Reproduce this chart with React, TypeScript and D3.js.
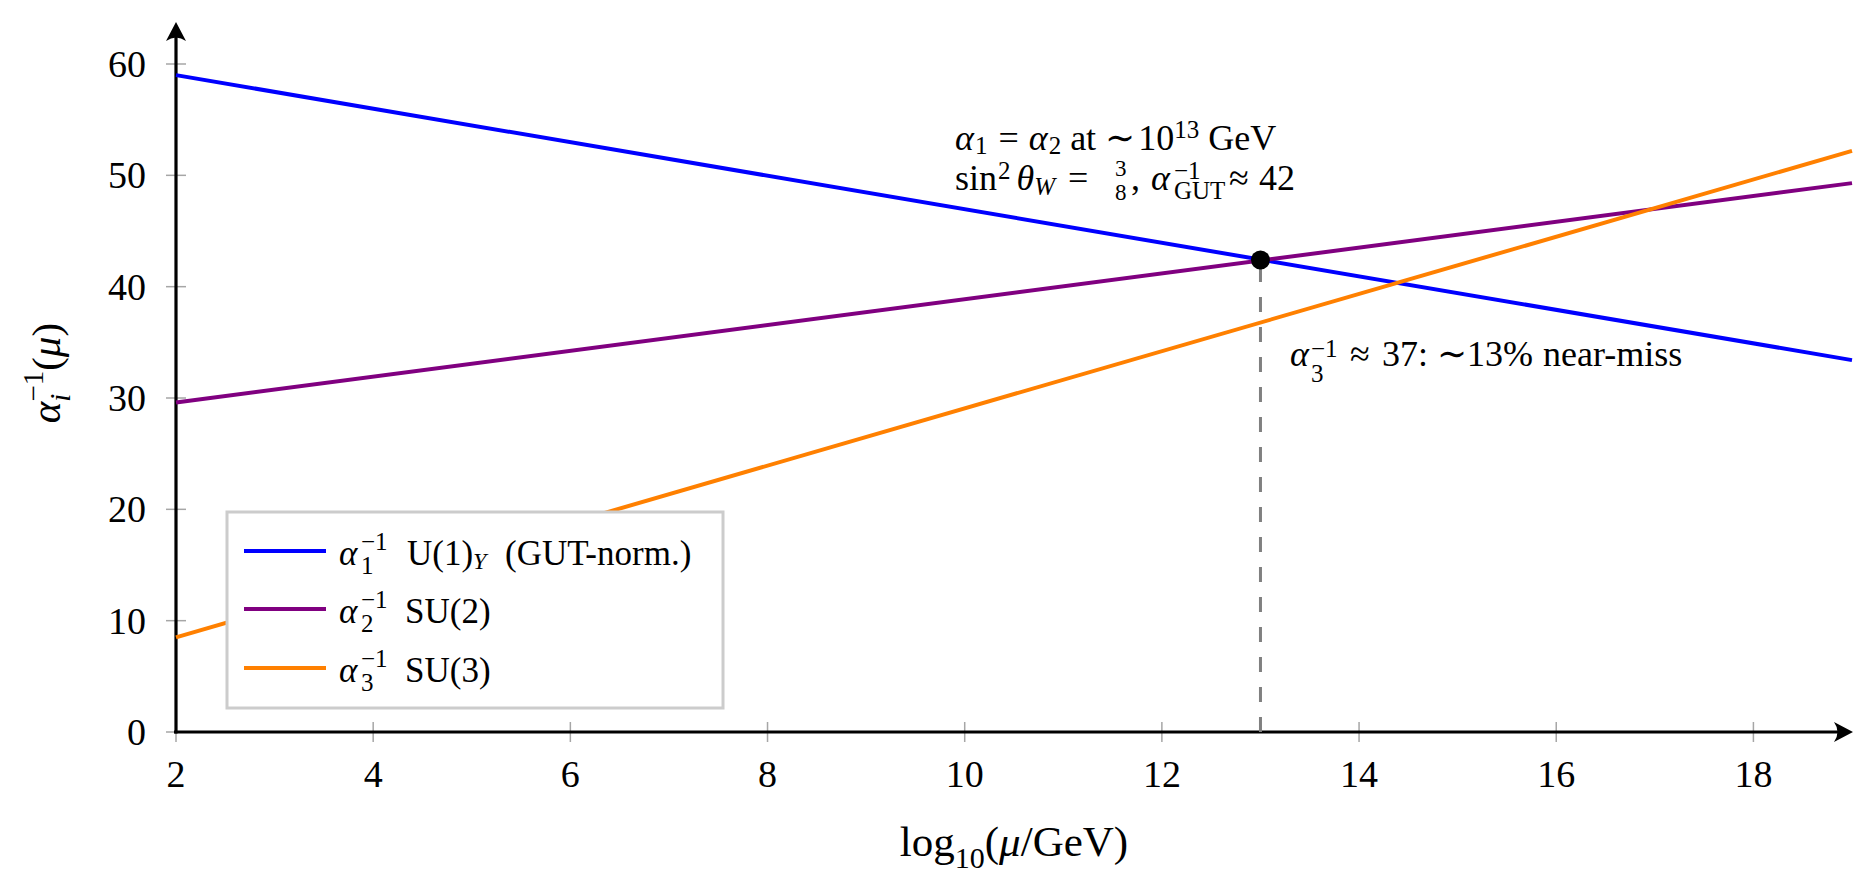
import React from 'react'
import * as d3 from 'd3'

const W = 1873
const H = 887

// inverse couplings at the ends of the plotted range, x = log10(mu / GeV)
const logMu = [2, 19]
const alpha1Inv = [59.0, 33.4]
const alpha2Inv = [29.6, 49.3]
const alpha3Inv = [8.5, 52.2]

const seriesValues = [alpha1Inv, alpha2Inv, alpha3Inv]
const seriesColors = ['#0000ff', '#800080', '#ff8000']
const seriesIndex = ['1', '2', '3']

const xTicks = [2, 4, 6, 8, 10, 12, 14, 16, 18]
const yTicks = [0, 10, 20, 30, 40, 50, 60]

// where alpha1 meets alpha2
const meetPoint = [13, 42.4]

const margin = { left: 176, right: 21, top: 64, bottom: 155 }
const FONT = '"Liberation Serif", "DejaVu Serif", serif'

type Piece = { t: string; x?: number; s?: number; i?: boolean; b?: number; dx?: number }

// a run of text with sub/superscripts, b = baseline shift
function MathText (props: { x: number; y: number; size: number; pieces: Piece[]; anchor?: string; rotate?: number }) {
  const { x, y, size, pieces, anchor, rotate } = props
  let cur = 0
  return (
    <text
      transform={`translate(${x},${y})` + (rotate ? ` rotate(${rotate})` : '')}
      fontSize={size}
      textAnchor={anchor || 'start'}
      style={{ whiteSpace: 'pre' }}
    >
      {pieces.map((p, k) => {
        const b = p.b ?? 0
        const dy = b - cur
        cur = b
        return (
          <tspan key={k} x={p.x} dx={p.dx} dy={dy} fontSize={p.s} fontStyle={p.i ? 'italic' : undefined}>
            {p.t}
          </tspan>
        )
      })}
    </text>
  )
}

const legendText: Piece[][] = [
  [{ t: 'U(1)', x: 68 }, { t: 'Y', i: true, s: 24, b: 4 }, { t: '(GUT-norm.)', x: 166, b: 0 }],
  [{ t: 'SU(2)', x: 66 }],
  [{ t: 'SU(3)', x: 66 }],
]

export default function App () {
  const x = d3.scaleLinear().domain([2, 19]).range([margin.left, W - margin.right])
  const y = d3.scaleLinear().domain([0, 60]).range([H - margin.bottom, margin.top])

  const line = d3.line<number>()
    .x((_, i) => x(logMu[i]))
    .y(d => y(d))

  const x0 = x(2)
  const y0 = y(0)
  const xTip = x(19) + 1
  const yTip = 22

  const legend = { x: 227, y: 512, w: 496, h: 196, rows: [551, 609, 668] }

  return (
    <svg width={W} height={H} style={{ position: 'absolute', left: 0, top: 0 }} fontFamily={FONT}>
      <rect width={W} height={H} fill='#fff' />

      {/* ticks */}
      <g stroke='#a6a6a6' strokeWidth={1.5}>
        {xTicks.map(t => <line key={'x' + t} x1={x(t)} x2={x(t)} y1={y0 - 10} y2={y0 + 10} />)}
        {yTicks.map(t => <line key={'y' + t} x1={x0 - 10} x2={x0 + 10} y1={y(t)} y2={y(t)} />)}
      </g>
      <g fontSize={38}>
        {xTicks.map(t => <text key={'xl' + t} x={x(t)} y={y0 + 55} textAnchor='middle'>{t}</text>)}
        {yTicks.map(t => <text key={'yl' + t} x={x0 - 30} y={y(t)} dy='0.34em' textAnchor='end'>{t}</text>)}
      </g>

      {/* axes with arrow heads */}
      <g stroke='#000' strokeWidth={3.2}>
        <line x1={x0 - 2} x2={xTip - 8} y1={y0} y2={y0} />
        <line x1={x0} x2={x0} y1={y0 + 1.6} y2={yTip + 8} />
      </g>
      <path d={`M${xTip},${y0} L${xTip - 19},${y0 - 10} Q${xTip - 12},${y0} ${xTip - 19},${y0 + 10} Z`} fill='#000' />
      <path d={`M${x0},${yTip} L${x0 - 10},${yTip + 19} Q${x0},${yTip + 12} ${x0 + 10},${yTip + 19} Z`} fill='#000' />

      {/* coupling lines */}
      {seriesValues.map((vals, k) => (
        <path key={k} d={line(vals) || ''} fill='none' stroke={seriesColors[k]} strokeWidth={4} />
      ))}

      {/* drop line from the meeting point */}
      <line
        x1={x(meetPoint[0])} x2={x(meetPoint[0])}
        y1={y(0)} y2={y(meetPoint[1])}
        stroke='#808080' strokeWidth={3} strokeDasharray='15 15'
      />
      <circle cx={x(meetPoint[0])} cy={y(meetPoint[1])} r={9.5} fill='#000' />

      {/* annotations */}
      <MathText x={955} y={150} size={36} pieces={[
        { t: 'α', i: true },
        { t: '1', s: 25, b: 4, dx: 1 },
        { t: '=', b: 0, dx: 11 },
        { t: 'α', i: true, dx: 10 },
        { t: '2', s: 25, b: 4, dx: 1 },
        { t: ' at ∼', b: 0 },
        { t: '10', dx: 3 },
        { t: '13', s: 25, b: -12 },
        { t: ' GeV', b: 0 },
      ]} />
      <MathText x={955} y={190} size={36} pieces={[
        { t: 'sin' },
        { t: '2', s: 25, b: -11, dx: 1 },
        { t: 'θ', i: true, b: 0, dx: 6 },
        { t: 'W', i: true, s: 25, b: 5 },
        { t: '=', b: 0, x: 113 },
        { t: '3', s: 23, b: -14, x: 160 },
        { t: '8', s: 23, b: 10, x: 160 },
        { t: ',', b: 0, x: 176 },
        { t: 'α', i: true, x: 196 },
        { t: '−1', s: 25, b: -11, x: 219 },
        { t: 'GUT', s: 25, b: 9, x: 219 },
        { t: '≈', b: 0, x: 274 },
        { t: '42', x: 304 },
      ]} />
      <MathText x={1290} y={366} size={36} pieces={[
        { t: 'α', i: true },
        { t: '−1', s: 25, b: -9, x: 21 },
        { t: '3', s: 25, b: 16, x: 21 },
        { t: '≈', b: 0, x: 60 },
        { t: '37:', x: 92 },
        { t: '∼', x: 147 },
        { t: '13%', x: 177 },
        { t: 'near-miss', x: 253 },
      ]} />

      {/* axis titles */}
      <MathText x={(x(2) + x(19)) / 2} y={856} size={43} anchor='middle' pieces={[
        { t: 'log' },
        { t: '10', s: 30, b: 12 },
        { t: '(', b: 0 },
        { t: 'μ', i: true },
        { t: '/GeV)' },
      ]} />
      <MathText x={60} y={373} size={41} anchor='middle' rotate={-90} pieces={[
        { t: 'α', i: true },
        { t: '−1', s: 29, b: -17 },
        { t: 'i', i: true, s: 29, b: 10, dx: -30.9 },
        { t: '(', b: 0, dx: 22.8 },
        { t: 'μ', i: true },
        { t: ')' },
      ]} />

      {/* legend */}
      <rect x={legend.x} y={legend.y} width={legend.w} height={legend.h} fill='#fff' stroke='#cccccc' strokeWidth={3} />
      {seriesColors.map((c, k) => (
        <g key={k}>
          <line x1={244} x2={326} y1={legend.rows[k]} y2={legend.rows[k]} stroke={c} strokeWidth={4} />
          <MathText x={339} y={legend.rows[k] + 14} size={35} pieces={[
            { t: 'α', i: true },
            { t: '−1', s: 25, b: -15, x: 22 },
            { t: seriesIndex[k], s: 25, b: 9, x: 22 },
            ...legendText[k].map(p => ({ b: 0, ...p })),
          ]} />
        </g>
      ))}
    </svg>
  )
}
